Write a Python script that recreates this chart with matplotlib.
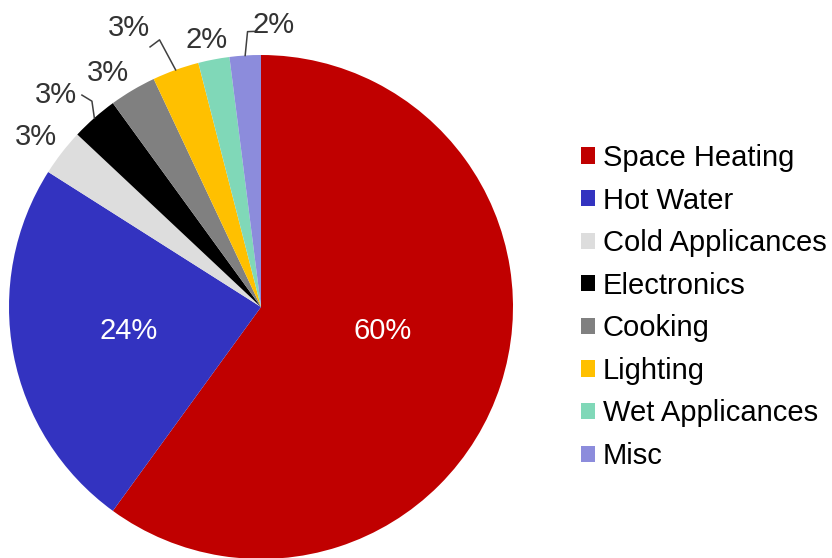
import numpy as np
import matplotlib.pyplot as plt

plt.rcParams['font.family'] = ['Liberation Sans', 'DejaVu Sans']

# household energy use breakdown
categories = ['Space Heating', 'Hot Water', 'Cold Applicances', 'Electronics',
              'Cooking', 'Lighting', 'Wet Applicances', 'Misc']
shares = [60, 24, 3, 3, 3, 3, 2, 2]
colors = ['#C00000', '#3333C0', '#DDDDDD', '#000000',
          '#808080', '#FFC000', '#80D8B8', '#8C8CDC']

# label placement: (radius, angle shift in degrees) per slice
label_r = [0.491, 0.53, 1.126, 1.179, 1.119, 1.236, 1.093, 1.132]
label_shift = [8.2, -1.8, 0.2, 2.2, 2.2, 5.3, 0.5, -6.2]
label_inside = [True, True, False, False, False, False, False, False]
# slices that get an elbow leader line: index -> (elbow r, elbow angle, end r, end angle)
leaders = {3: (1.057, 129.4, 1.101, 130.2),
           5: (1.134, 110.8, 1.122, 113.1),
           7: (1.094, 92.8, 1.094, 91.2)}

W, H = 832, 558
fig = plt.figure(figsize=(W / 100, H / 100), dpi=100)
cx, cy, R = 261, 307, 252
ax = fig.add_axes([(cx - R) / W, (H - cy - R) / H, 2 * R / W, 2 * R / H])

wedges, _ = ax.pie(shares, colors=colors, startangle=90, counterclock=False,
                   radius=1.0, wedgeprops=dict(linewidth=0))
ax.set_xlim(-1, 1)
ax.set_ylim(-1, 1)
ax.set_aspect('equal')
ax.axis('off')

for i, w in enumerate(wedges):
    mid = (w.theta1 + w.theta2) / 2
    ang = np.deg2rad(mid + label_shift[i])
    x, y = label_r[i] * np.cos(ang), label_r[i] * np.sin(ang)
    ax.annotate(f'{shares[i]}%', (x, y), xytext=(0, -2.2), textcoords='offset points',
                ha='center', va='center', fontsize=21,
                color='white' if label_inside[i] else '#333333', annotation_clip=False)
    if i in leaders:
        er, ea, tr, ta = leaders[i]
        pts = [(np.cos(np.deg2rad(mid)), np.sin(np.deg2rad(mid))),
               (er * np.cos(np.deg2rad(ea)), er * np.sin(np.deg2rad(ea))),
               (tr * np.cos(np.deg2rad(ta)), tr * np.sin(np.deg2rad(ta)))]
        xs, ys = zip(*pts)
        ax.plot(xs, ys, color='#404040', lw=1.1, clip_on=False)

fig.legend(wedges, categories, loc='center left',
           bbox_to_anchor=(581 / W, 1 - cy / H), frameon=False,
           fontsize=21, borderpad=0, borderaxespad=0,
           handlelength=0.48, handleheight=0.48, handletextpad=0.27,
           labelspacing=0.5)

fig.savefig('out.png', dpi=100)
